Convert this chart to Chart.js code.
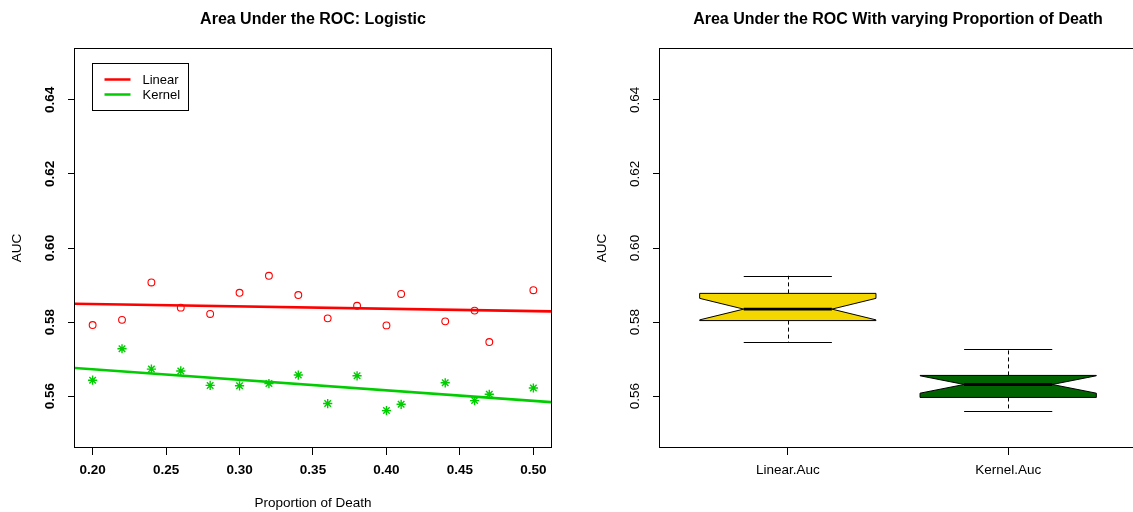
<!DOCTYPE html>
<html>
<head>
<meta charset="utf-8">
<script src="https://cdn.jsdelivr.net/npm/chart.js@4.4.1/dist/chart.umd.min.js"></script>
<style>
  html, body { margin: 0; padding: 0; background: #fff; overflow: hidden; width: 1133px; height: 512px; }
  #wrap { position: relative; width: 1133px; height: 512px; overflow: hidden; }
  canvas { position: absolute; top: 0; }
  #left { left: 0; }
  #right { left: 580px; }
</style>
</head>
<body>
<div id="wrap">
  <canvas id="left" width="580" height="512"></canvas>
  <canvas id="right" width="570" height="512"></canvas>
</div>
<script>
// AUC per proportion of deaths, for the two logistic models
const proportions = [0.20, 0.22, 0.24, 0.26, 0.28, 0.30, 0.32, 0.34, 0.36, 0.38, 0.40, 0.41, 0.44, 0.46, 0.47, 0.50];
const linearAuc   = [0.5792, 0.5806, 0.5907, 0.5839, 0.5822, 0.5879, 0.5925, 0.5873, 0.5810, 0.5844, 0.5791, 0.5876, 0.5802, 0.5831, 0.5746, 0.5886];
const kernelAuc   = [0.5643, 0.5728, 0.5673, 0.5668, 0.5629, 0.5628, 0.5634, 0.5657, 0.5580, 0.5655, 0.5561, 0.5578, 0.5636, 0.5588, 0.5605, 0.5622];

const seriesNames  = ['Linear', 'Kernel'];
const seriesColors = ['#FF0000', '#00CD00'];
const boxNames     = ['Linear.Auc', 'Kernel.Auc'];
const boxFills     = ['#F5D700', '#006400'];

const xTickValues = [0.20, 0.25, 0.30, 0.35, 0.40, 0.45, 0.50];
const xTickLabels = ['0.20', '0.25', '0.30', '0.35', '0.40', '0.45', '0.50'];
const yTickValues = [0.56, 0.58, 0.60, 0.62, 0.64];
const yTickLabels = ['0.56', '0.58', '0.60', '0.62', '0.64'];
const boxTickValues = [1, 2];

const xRange   = [0.188, 0.512];
const yRange   = [0.546, 0.654];
const boxRange = [0.42, 2.58];

const FONT = '"Liberation Sans", Arial, Helvetica, sans-serif';
Chart.defaults.font.family = FONT;
Chart.defaults.color = '#000';

// least-squares fit y = a + b x
function fitLine(xs, ys) {
  const n = xs.length;
  const mx = xs.reduce((s, v) => s + v, 0) / n;
  const my = ys.reduce((s, v) => s + v, 0) / n;
  let sxy = 0, sxx = 0;
  for (let i = 0; i < n; i++) { sxy += (xs[i] - mx) * (ys[i] - my); sxx += (xs[i] - mx) ** 2; }
  const b = sxy / sxx, a = my - b * mx;
  return xRange.map(x => ({ x, y: a + b * x }));
}

// Tukey five-number summary, notches and whisker ends
function boxStats(values) {
  const s = [...values].sort((a, b) => a - b);
  const n = s.length;
  const n4 = Math.floor((n + 3) / 2) / 2;
  const d = [1, n4, (n + 1) / 2, n + 1 - n4, n];
  const f = d.map(k => 0.5 * (s[Math.floor(k) - 1] + s[Math.ceil(k) - 1]));
  const iqr = f[3] - f[1];
  const half = 1.58 * iqr / Math.sqrt(n);
  const lo = s.find(v => v >= f[1] - 1.5 * iqr);
  const hi = [...s].reverse().find(v => v <= f[3] + 1.5 * iqr);
  return { lo, q1: f[1], med: f[2], q3: f[3], hi, nLo: f[2] - half, nHi: f[2] + half };
}

function line(ctx, x1, y1, x2, y2) {
  ctx.beginPath(); ctx.moveTo(x1, y1); ctx.lineTo(x2, y2); ctx.stroke();
}

function yScaleOpts(weight) {
  return {
    type: 'linear', min: yRange[0], max: yRange[1],
    afterBuildTicks: s => { s.ticks = yTickValues.map(v => ({ value: v })); },
    ticks: {
      callback: (v, i) => yTickLabels[i],
      font: { size: 13.5, weight: weight }, color: '#000',
      minRotation: 90, maxRotation: 90, crossAlign: 'center', padding: 4.5, autoSkip: false
    },
    grid: { drawOnChartArea: false, color: '#000', tickLength: 7, lineWidth: 1 },
    border: { display: false }
  };
}

// frame, titles, axis titles
function decorations(title, xTitle, yTitle, extra) {
  return {
    id: 'decor',
    afterDraw(chart) {
      const { ctx, chartArea: a } = chart;
      ctx.save();
      ctx.strokeStyle = '#000'; ctx.lineWidth = 1;
      ctx.strokeRect(Math.round(a.left) - 0.5, Math.round(a.top) + 0.5,
                     Math.round(a.right - a.left) + 1, Math.round(a.bottom - a.top) - 1);
      const cx = (a.left + a.right) / 2;
      ctx.fillStyle = '#000';
      ctx.textAlign = 'center';
      ctx.textBaseline = 'alphabetic';
      ctx.font = 'bold 16px ' + FONT;
      ctx.fillText(title, cx, 24);
      ctx.font = '13.5px ' + FONT;
      if (xTitle) ctx.fillText(xTitle, cx, 507);
      ctx.save();
      ctx.translate(a.left - 58, (a.top + a.bottom) / 2);
      ctx.rotate(-Math.PI / 2);
      ctx.textBaseline = 'middle';
      ctx.fillText(yTitle, 0, 0);
      ctx.restore();
      if (extra) extra(chart);
      ctx.restore();
    }
  };
}

function drawLegend(chart) {
  const { ctx, chartArea: a } = chart;
  const L = Math.round(a.left + 17) + 0.5, T = Math.round(a.top + 15) + 0.5;
  ctx.strokeStyle = '#000'; ctx.lineWidth = 1;
  ctx.strokeRect(L, T, 96, 47);
  ctx.font = '13px ' + FONT;
  ctx.textAlign = 'left'; ctx.textBaseline = 'middle';
  seriesNames.forEach((name, i) => {
    const y = T + 16 + i * 15;
    ctx.strokeStyle = seriesColors[i]; ctx.lineWidth = 2.5;
    line(ctx, L + 12, y, L + 38, y);
    ctx.fillStyle = '#000';
    ctx.fillText(name, L + 50, y + 0.5);
  });
}

// left panel: scatter with fitted lines
new Chart(document.getElementById('left'), {
  type: 'scatter',
  data: {
    datasets: [
      { label: seriesNames[0], data: proportions.map((x, i) => ({ x, y: linearAuc[i] })),
        pointStyle: 'circle', pointRadius: 3.4, pointBorderWidth: 1.1,
        borderColor: seriesColors[0], backgroundColor: 'rgba(0,0,0,0)', showLine: false },
      { label: seriesNames[1], data: proportions.map((x, i) => ({ x, y: kernelAuc[i] })),
        pointStyle: 'star', pointRadius: 4.6, pointBorderWidth: 1.4,
        borderColor: seriesColors[1], backgroundColor: seriesColors[1], showLine: false },
      { label: seriesNames[0] + ' fit', type: 'line', data: fitLine(proportions, linearAuc),
        borderColor: seriesColors[0], borderWidth: 2.6, pointRadius: 0, fill: false, showLine: true },
      { label: seriesNames[1] + ' fit', type: 'line', data: fitLine(proportions, kernelAuc),
        borderColor: seriesColors[1], borderWidth: 2.6, pointRadius: 0, fill: false, showLine: true }
    ]
  },
  options: {
    responsive: false, animation: false, devicePixelRatio: 1,
    layout: { padding: { top: 48, right: 29, bottom: 0, left: 0 } },
    plugins: { legend: { display: false }, tooltip: { enabled: false }, title: { display: false } },
    scales: {
      x: {
        type: 'linear', min: xRange[0], max: xRange[1],
        afterBuildTicks: s => { s.ticks = xTickValues.map(v => ({ value: v })); },
        afterFit: s => { s.height = 64; },
        ticks: { callback: (v, i) => xTickLabels[i], font: { size: 13.5, weight: 'bold' }, color: '#000',
                 padding: 7, maxRotation: 0, autoSkip: false },
        grid: { drawOnChartArea: false, color: '#000', tickLength: 7, lineWidth: 1 },
        border: { display: false }
      },
      y: Object.assign(yScaleOpts('bold'), { afterFit: s => { s.width = 75; } })
    }
  },
  plugins: [decorations('Area Under the ROC: Logistic', 'Proportion of Death', 'AUC', drawLegend)]
});

// right panel: notched box plots
const boxSeries = [linearAuc, kernelAuc];
const boxPlugin = {
  id: 'boxes',
  beforeDatasetsDraw(chart) {
    const { ctx } = chart;
    const xs = chart.scales.x, ys = chart.scales.y;
    const X = v => xs.getPixelForValue(v), Y = v => ys.getPixelForValue(v);
    boxSeries.forEach((vals, i) => {
      const st = boxStats(vals);
      const pos = boxTickValues[i], w = 0.4, nw = 0.2;
      const cx = Math.round(X(pos)) + 0.5;
      ctx.save();
      ctx.strokeStyle = '#000'; ctx.lineWidth = 1;
      ctx.setLineDash([4, 3]);
      line(ctx, cx, Y(st.q3), cx, Y(st.hi));
      line(ctx, cx, Y(st.q1), cx, Y(st.lo));
      ctx.setLineDash([]);
      line(ctx, X(pos - nw), Math.round(Y(st.hi)) + 0.5, X(pos + nw), Math.round(Y(st.hi)) + 0.5);
      line(ctx, X(pos - nw), Math.round(Y(st.lo)) + 0.5, X(pos + nw), Math.round(Y(st.lo)) + 0.5);
      ctx.beginPath();
      ctx.moveTo(X(pos - w), Y(st.q1));
      ctx.lineTo(X(pos - w), Y(st.nLo));
      ctx.lineTo(X(pos - nw), Y(st.med));
      ctx.lineTo(X(pos - w), Y(st.nHi));
      ctx.lineTo(X(pos - w), Y(st.q3));
      ctx.lineTo(X(pos + w), Y(st.q3));
      ctx.lineTo(X(pos + w), Y(st.nHi));
      ctx.lineTo(X(pos + nw), Y(st.med));
      ctx.lineTo(X(pos + w), Y(st.nLo));
      ctx.lineTo(X(pos + w), Y(st.q1));
      ctx.closePath();
      ctx.fillStyle = boxFills[i];
      ctx.fill();
      ctx.stroke();
      ctx.lineWidth = 2.8;
      line(ctx, X(pos - nw), Y(st.med), X(pos + nw), Y(st.med));
      ctx.restore();
    });
  }
};

new Chart(document.getElementById('right'), {
  type: 'scatter',
  data: { datasets: [] },
  options: {
    responsive: false, animation: false, devicePixelRatio: 1,
    layout: { padding: { top: 48, right: 14, bottom: 0, left: 0 } },
    plugins: { legend: { display: false }, tooltip: { enabled: false }, title: { display: false } },
    scales: {
      x: {
        type: 'linear', min: boxRange[0], max: boxRange[1],
        afterBuildTicks: s => { s.ticks = boxTickValues.map(v => ({ value: v })); },
        afterFit: s => { s.height = 64; },
        ticks: { callback: (v, i) => boxNames[i], font: { size: 13.5 }, color: '#000',
                 padding: 7, maxRotation: 0, autoSkip: false },
        grid: { drawOnChartArea: false, color: '#000', tickLength: 7, lineWidth: 1 },
        border: { display: false }
      },
      y: Object.assign(yScaleOpts('normal'), { afterFit: s => { s.width = 80; } })
    }
  },
  plugins: [boxPlugin, decorations('Area Under the ROC With varying Proportion of Death', null, 'AUC')]
});
</script>
</body>
</html>
